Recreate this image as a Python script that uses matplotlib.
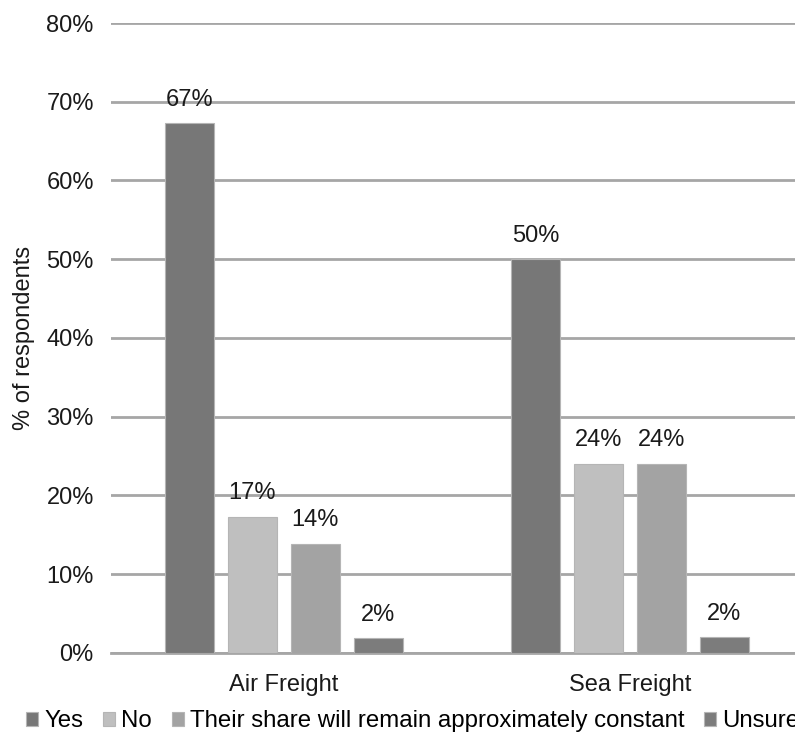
import matplotlib.pyplot as plt
import numpy as np
from matplotlib.ticker import PercentFormatter

plt.rcParams['font.family'] = ['Liberation Sans', 'DejaVu Sans']

categories = ['Air Freight', 'Sea Freight']
series = ['Yes', 'No', 'Their share will remain approximately constant', 'Unsure']
yes_vals = [67.3, 50.0]
no_vals = [17.3, 24.0]
constant_vals = [13.9, 24.0]
unsure_vals = [1.9, 2.0]
value_labels = [['67%', '50%'], ['17%', '24%'], ['14%', '24%'], ['2%', '2%']]
colors = ['#777777', '#bfbfbf', '#a3a3a3', '#7c7c7c']

fig = plt.figure(figsize=(7.95, 7.35), dpi=100)
ax = fig.add_axes([0.139, 0.1116, 0.871, 0.8571])

x = np.arange(len(categories))
width = 0.142
step = 0.182
all_vals = [yes_vals, no_vals, constant_vals, unsure_vals]
handles = []
for i, vals in enumerate(all_vals):
    offs = (i - 1.5) * step
    b = ax.bar(x + offs, vals, width, color=colors[i], edgecolor='#b5b5b5',
               linewidth=0.8, label=series[i], zorder=3)
    handles.append(b)
    for j, v in enumerate(vals):
        ax.annotate(value_labels[i][j], (x[j] + offs, v), xytext=(0, 9),
                    textcoords='offset points', ha='center', va='bottom',
                    fontsize=17, color='#1a1a1a')

ax.set_xlim(-0.5, 1.5)
ax.set_ylim(0, 80)
ax.set_yticks(np.arange(0, 81, 10))
ax.yaxis.set_major_formatter(PercentFormatter(decimals=0))
ax.set_xticks(x)
ax.set_xticklabels(categories)
ax.tick_params(axis='both', length=0, labelsize=17, colors='#1a1a1a')
ax.tick_params(axis='x', pad=15)
ax.tick_params(axis='y', pad=12)
ax.grid(axis='y', color='#a6a6a6', linewidth=2, zorder=0)
for s in ['top', 'right', 'left']:
    ax.spines[s].set_visible(False)
ax.spines['bottom'].set_color('#a6a6a6')
ax.spines['bottom'].set_linewidth(2)
ax.set_ylabel('% of respondents', fontsize=17, color='#1a1a1a', labelpad=8)

fig.legend(handles=handles, labels=series, loc='lower left', bbox_to_anchor=(0.006, -0.026),
           ncol=4, frameon=False, fontsize=17.3, handlelength=0.5, handleheight=0.5,
           handletextpad=0.25, columnspacing=0.82)

fig.savefig('out.png', dpi=100)
